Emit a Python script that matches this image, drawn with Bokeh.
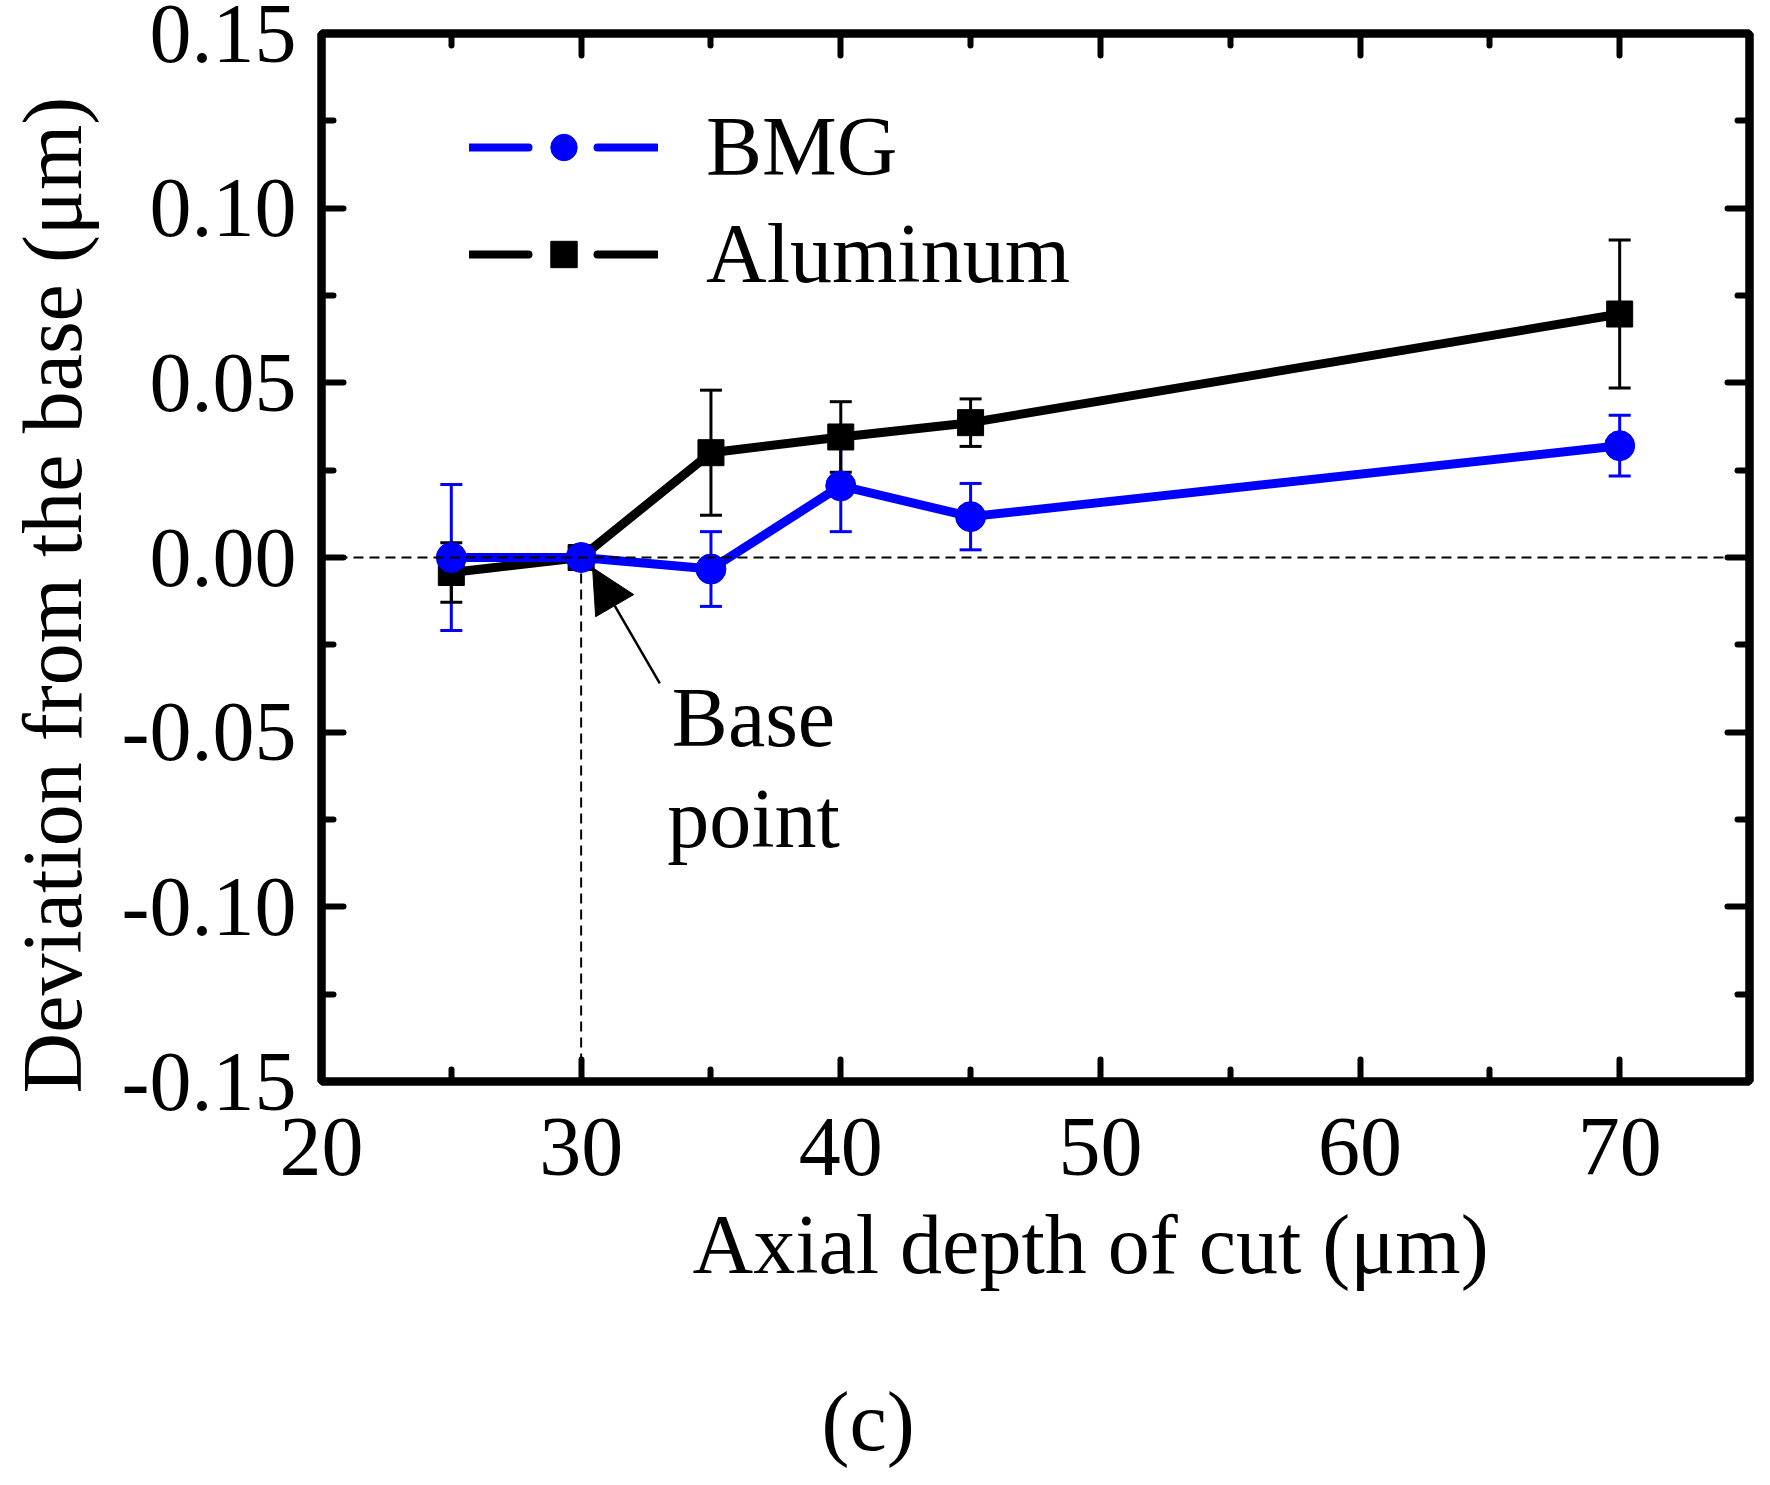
import numpy as np
from bokeh.plotting import figure
from bokeh.models import (FixedTicker, LinearAxis, PrintfTickFormatter, Range1d, Whisker,
                          TeeHead, ColumnDataSource, Legend, LegendItem, Label, Arrow,
                          NormalHead, Span, Title)
from bokeh.embed import file_html
from bokeh.resources import INLINE

# ---------------- data ----------------
depth = [25, 30, 35, 40, 45, 70]
bmg_dev = [0.0, 0.0, -0.0033, 0.0205, 0.0117, 0.0320]
bmg_err = [0.0209, 0.0, 0.0107, 0.0131, 0.0095, 0.0087]
al_dev = [-0.0043, 0.0, 0.0300, 0.0345, 0.0386, 0.0697]
al_err = [0.0085, 0.0, 0.0179, 0.0101, 0.0068, 0.0212]
base_x = 30
base_y = 0.0

x_ticks = [20, 30, 40, 50, 60, 70]
x_minor = [25, 35, 45, 55, 65]
y_ticks = [-0.15, -0.10, -0.05, 0.0, 0.05, 0.10, 0.15]
y_minor = [-0.125, -0.075, -0.025, 0.025, 0.075, 0.125]

x_label = "Axial depth of cut (\u03bcm)"
y_label = "Deviation from the base (\u03bcm)"
series_names = ["BMG", "Aluminum"]
annot_lines = ["Base", "point"]
panel_tag = "(c)"

FONT = "Liberation Serif"
FS = "84px"
BLUE = "#0000ff"

p = figure(width=1762, height=1469, x_range=Range1d(20, 75), y_range=Range1d(-0.15, 0.15),
           output_backend="svg", toolbar_location=None, title=None,
           min_border_left=321, min_border_right=13, min_border_top=33, min_border_bottom=388,
           x_axis_location=None, y_axis_location=None)
p.grid.visible = False
p.outline_line_color = "black"
p.outline_line_width = 8
p.background_fill_color = "white"
p.border_fill_color = "white"


def style_axis(ax, ticks, minor, labels=True):
    ax.ticker = FixedTicker(ticks=ticks, minor_ticks=minor)
    ax.axis_line_width = 8
    ax.axis_line_color = "black"
    ax.major_tick_in = 22
    ax.major_tick_out = 0
    ax.minor_tick_in = 12
    ax.minor_tick_out = 0
    ax.major_tick_line_width = 6
    ax.minor_tick_line_width = 6
    ax.major_tick_line_cap = "round"
    ax.minor_tick_line_cap = "round"
    ax.major_label_text_font = FONT
    if labels:
        ax.major_label_text_font_size = FS
        ax.major_label_text_color = "black"
    else:
        ax.major_label_text_font_size = "10px"
        ax.major_label_text_color = None
        ax.major_label_standoff = 0


def spacer(gap, at):
    # blank axis: one white outer tick (white on white) only reserves a gap in a side panel
    return LinearAxis(ticker=FixedTicker(ticks=[at], minor_ticks=[]), axis_line_color=None,
                      major_tick_line_color="white", major_tick_line_width=1,
                      minor_tick_line_color=None,
                      major_tick_in=0, major_tick_out=gap, minor_tick_in=0, minor_tick_out=0,
                      major_label_standoff=0, major_label_text_color=None,
                      major_label_text_font_size="0px")


def make_title(txt, offset, standoff):
    return Title(text=txt, align="left", offset=offset, standoff=standoff,
                 text_font=FONT, text_font_size=FS, text_font_style="normal",
                 text_color="black")


xb = LinearAxis()
style_axis(xb, x_ticks, x_minor)
xb.major_label_standoff = 37
p.add_layout(xb, "below")
p.add_layout(make_title(x_label, 371, 36), "below")
p.add_layout(spacer(64, 47.5), "below")
p.add_layout(make_title(panel_tag, 500, 0), "below")

yl = LinearAxis(formatter=PrintfTickFormatter(format="%.2f"))
style_axis(yl, y_ticks, y_minor)
yl.major_label_standoff = 25
p.add_layout(yl, "left")
p.add_layout(spacer(20, -0.14), "left")
p.add_layout(make_title(y_label, -12, 0), "left")

xt = LinearAxis()
style_axis(xt, x_ticks, x_minor, labels=False)
p.add_layout(xt, "above")

yr = LinearAxis()
style_axis(yr, y_ticks, y_minor, labels=False)
p.add_layout(yr, "right")

# reference lines
p.add_layout(Span(location=base_y, dimension="width", line_color="black",
                  line_width=2, line_dash="10 6"))
p.segment(x0=[base_x], y0=[base_y], x1=[base_x], y1=[-0.15], line_color="black",
          line_width=2, line_dash="10 6")

# series
al_line = p.line(depth, al_dev, line_color="black", line_width=9)
al_pts = p.scatter(depth, al_dev, marker="square", size=26, fill_color="black", line_color="black")
bmg_line = p.line(depth, bmg_dev, line_color=BLUE, line_width=9)
bmg_pts = p.scatter(depth, bmg_dev, marker="circle", size=30, fill_color=BLUE, line_color=BLUE)


def err_source(xs, ys, es):
    xx, up, lo = [], [], []
    for x, y, e in zip(xs, ys, es):
        if e > 0:
            xx.append(x)
            up.append(y + e)
            lo.append(y - e)
    return ColumnDataSource(dict(base=xx, upper=up, lower=lo))


for xs, ys, es, col in [(depth, bmg_dev, bmg_err, BLUE), (depth, al_dev, al_err, "black")]:
    src = err_source(xs, ys, es)
    w = Whisker(base="base", upper="upper", lower="lower", source=src,
                line_color=col, line_width=3,
                upper_head=TeeHead(size=22, line_color=col, line_width=3),
                lower_head=TeeHead(size=22, line_color=col, line_width=3))
    p.add_layout(w)

# legend (dashed line sample + marker)
nan = np.array([np.nan])
leg_bmg = p.line(x=nan, y=nan, line_color=BLUE, line_width=8, line_dash="59 69", line_cap="round")
leg_al = p.line(x=nan, y=nan, line_color="black", line_width=8, line_dash="59 69", line_cap="round")
legend = Legend(items=[LegendItem(label=series_names[0], renderers=[leg_bmg, bmg_pts]),
                       LegendItem(label=series_names[1], renderers=[leg_al, al_pts])],
                location=(148, 779), glyph_width=189, glyph_height=66, label_height=66,
                label_standoff=48, spacing=10, padding=0, margin=0,
                border_line_color=None, background_fill_alpha=0,
                label_text_font=FONT, label_text_font_size=FS, label_text_color="black")
p.add_layout(legend)

# annotation
p.add_layout(Arrow(x_start=33.03, y_start=-0.036, x_end=30.44, y_end=-0.0029,
                   line_color="black", line_width=2.5,
                   end=NormalHead(size=44, fill_color="black", line_color="black", line_width=1)))


def add_text(txt, x, y):
    p.add_layout(Label(x=x, y=y, x_units="screen", y_units="screen", text=txt,
                       text_align="center", text_baseline="middle",
                       text_font=FONT, text_font_size=FS, text_color="black"))


add_text(annot_lines[0], 432, 364)
add_text(annot_lines[1], 432, 263)

open("out.html", "w").write(file_html(p, INLINE))
